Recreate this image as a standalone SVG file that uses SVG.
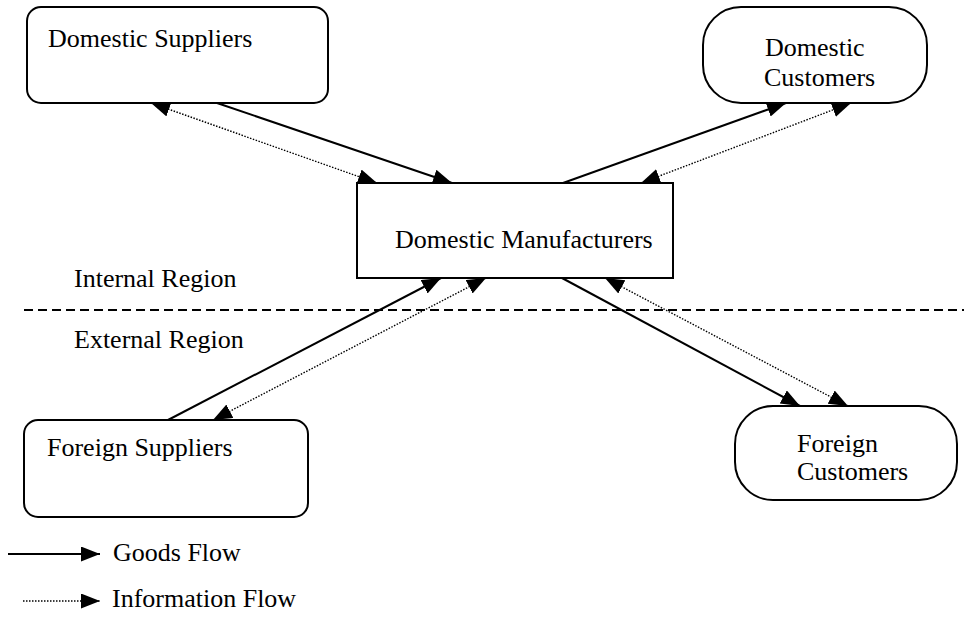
<svg xmlns="http://www.w3.org/2000/svg" width="964" height="625" viewBox="0 0 964 625">
  <style>
    .box { fill: #ffffff; stroke: #000000; stroke-width: 2; }
    .lbl { font-family: "Liberation Serif", "Times New Roman", serif; font-size: 26px; fill: #000000; }
    .goods { fill: none; stroke: #000000; stroke-width: 2; marker-end: url(#ah); }
    .info { fill: none; stroke: #000000; stroke-width: 1.4; stroke-dasharray: 1.5 1.5; marker-start: url(#ah); marker-end: url(#ah); }
    .info1 { fill: none; stroke: #000000; stroke-width: 1.4; stroke-dasharray: 1.5 1.5; marker-end: url(#ah); }
    .divider { fill: none; stroke: #000000; stroke-width: 2; stroke-dasharray: 9 5; }
  </style>
  <defs>
    <marker id="ah" markerUnits="userSpaceOnUse" markerWidth="20" markerHeight="16" refX="19" refY="7.5" orient="auto-start-reverse">
      <path d="M0,0 L19,7.5 L0,15 z" fill="#000000"/>
    </marker>
  </defs>
  <rect width="964" height="625" fill="#ffffff"/>

  <g id="divider">
    <line class="divider" x1="24" y1="310" x2="964" y2="310"/>
    <text class="lbl" x="74" y="287">Internal Region</text>
    <text class="lbl" x="74" y="348">External Region</text>
  </g>

  <g id="connectors">
    <line class="goods" x1="217" y1="103" x2="452" y2="183"/>
    <line class="info" x1="151" y1="103" x2="377" y2="183"/>
    <line class="goods" x1="563" y1="183" x2="786" y2="103"/>
    <line class="info" x1="641" y1="183" x2="851" y2="103"/>
    <line class="goods" x1="168" y1="420" x2="441" y2="278"/>
    <line class="info" x1="213" y1="420" x2="486" y2="278"/>
    <line class="goods" x1="562" y1="278" x2="800" y2="406"/>
    <line class="info" x1="605" y1="278" x2="848" y2="406"/>
  </g>

  <g id="domestic-suppliers">
    <rect class="box" x="27" y="7" width="301" height="96" rx="14" ry="14"/>
    <text class="lbl" x="48" y="47">Domestic Suppliers</text>
  </g>

  <g id="domestic-customers">
    <rect class="box" x="703" y="7" width="224" height="96" rx="38" ry="38"/>
    <text class="lbl" x="765" y="56">Domestic</text>
    <text class="lbl" x="764" y="86">Customers</text>
  </g>

  <g id="domestic-manufacturers">
    <rect class="box" x="357" y="183" width="316" height="95"/>
    <text class="lbl" x="395" y="248">Domestic Manufacturers</text>
  </g>

  <g id="foreign-suppliers">
    <rect class="box" x="24" y="420" width="284" height="97" rx="14" ry="14"/>
    <text class="lbl" x="47" y="456">Foreign Suppliers</text>
  </g>

  <g id="foreign-customers">
    <rect class="box" x="735" y="406" width="222" height="94" rx="38" ry="38"/>
    <text class="lbl" x="797" y="452">Foreign</text>
    <text class="lbl" x="797" y="480">Customers</text>
  </g>

  <g id="legend">
    <line class="goods" x1="8" y1="554" x2="100" y2="554"/>
    <text class="lbl" x="113" y="561">Goods Flow</text>
    <line class="info1" x1="23" y1="601" x2="100" y2="601"/>
    <text class="lbl" x="112" y="607">Information Flow</text>
  </g>
</svg>
